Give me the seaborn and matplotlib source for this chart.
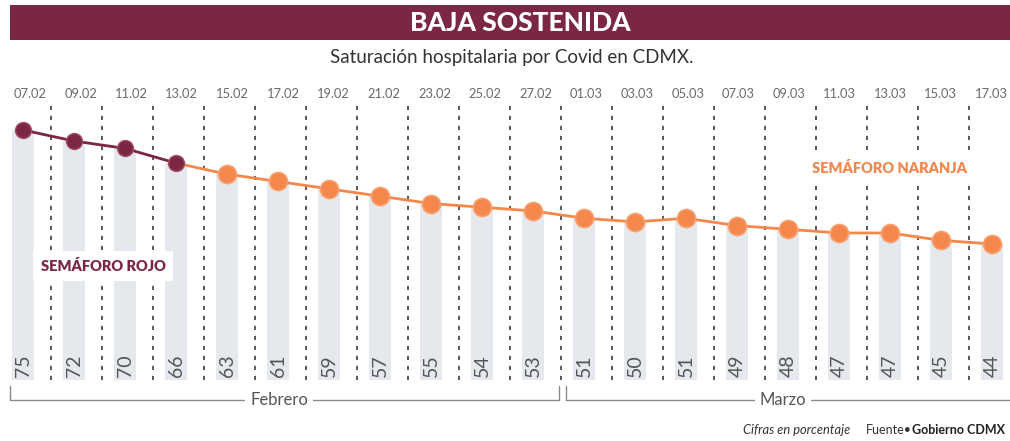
import numpy as np
import pandas as pd
import matplotlib
matplotlib.use("Agg")
import matplotlib.pyplot as plt
from matplotlib.patches import Rectangle
from matplotlib.lines import Line2D
import seaborn as sns

# ---- data ----
dates = ["07.02", "09.02", "11.02", "13.02", "15.02", "17.02", "19.02", "21.02",
         "23.02", "25.02", "27.02", "01.03", "03.03", "05.03", "07.03", "09.03",
         "11.03", "13.03", "15.03", "17.03"]
values = [75, 72, 70, 66, 63, 61, 59, 57, 55, 54, 53, 51, 50, 51, 49, 48, 47, 47, 45, 44]
red_count = 4  # first points under "semáforo rojo"
title = "BAJA SOSTENIDA"
subtitle = "Saturación hospitalaria por Covid en CDMX."
months = ["Febrero", "Marzo"]

MAROON = "#7b2743"
ORANGE = "#f4874b"
BARC = "#e5e9ee"
GRID = "#3c3c3c"
TXT = "#555555"

sns.set_theme(style="white")
plt.rcParams["font.family"] = ["Lato", "DejaVu Sans"]

W, H = 1010, 441
fig = plt.figure(figsize=(W / 100, H / 100), dpi=100)
fig.patch.set_facecolor("white")

def fx(px):
    return px / W

def fy(py):
    return 1 - py / H

# axes: bars at px 23 + 51*i, values: 75 -> y 130, 44 -> y 244
x0, dx = 23.0, 51.0
ax_top, ax_bot = 105.0, 380.0
ax = fig.add_axes([0, fy(ax_bot), 1, (ax_bot - ax_top) / H])
k = (244 - 130) / (75 - 44)
ymin = 75 - (ax_bot - 130) / k
ymax = 75 + (130 - ax_top) / k

idx = np.arange(len(values))
df = pd.DataFrame({"i": idx, "v": values, "d": dates})

sns.barplot(data=df, x="i", y="v", native_scale=True, color=BARC, width=0.43,
            saturation=1, ax=ax, zorder=1)
for p in ax.patches:
    p.set_edgecolor("none")

# dashed separators
for i in range(len(values) - 1):
    ax.axvline(i + 0.54, color=GRID, lw=1.2, ls=(0, (2.5, 3.5)), zorder=2)

# lines
sns.lineplot(x=idx[red_count - 1:], y=values[red_count - 1:], color=ORANGE, lw=2,
             ax=ax, zorder=3)
ax.plot(idx[red_count:], values[red_count:], ls="none", marker="o", ms=13,
        mfc=ORANGE, mec="#f8a070", mew=1.2, zorder=4)
sns.lineplot(x=idx[:red_count], y=values[:red_count], color=MAROON, lw=2,
             ax=ax, zorder=5)
ax.plot(idx[:red_count], values[:red_count], ls="none", marker="o", ms=11.5,
        mfc=MAROON, mec="#a0506a", mew=1.0, zorder=6)

ax.set_xlim(-x0 / dx, (W - x0) / dx)
ax.set_ylim(ymin, ymax)
ax.set_xlabel("")
ax.set_ylabel("")
ax.set_xticks([])
ax.set_yticks([])
for s in ax.spines.values():
    s.set_visible(False)
ax.set_facecolor("none")

# value labels inside bars, rotated
for i, v in enumerate(values):
    ax.text(i, ymin + 0.9, str(v), rotation=90, ha="center", va="bottom",
            fontsize=14, color=TXT, zorder=7)

# date labels on top (slightly tighter spacing than bars)
for i, d in enumerate(dates):
    xp = 30 + 50.6 * i
    ax.text((xp - x0) / dx, ymax + 1.4, d, ha="center", va="bottom", fontsize=9.3,
            color="#6a6a6a", zorder=7, clip_on=False)

# annotations with white boxes
ax.text((103 - x0) / dx, 75 - (266 - 130) / k, "SEMÁFORO ROJO", ha="center",
        va="center", fontsize=10.5, fontweight="heavy", color=MAROON, zorder=8,
        bbox=dict(boxstyle="square,pad=0.55", fc="white", ec="none"))
ax.text((889 - x0) / dx, 75 - (168 - 130) / k, "SEMÁFORO NARANJA", ha="center",
        va="center", fontsize=10.5, fontweight="heavy", color=ORANGE, zorder=8,
        bbox=dict(boxstyle="square,pad=0.55", fc="white", ec="none"))

# title banner
fig.patches.append(Rectangle((fx(10), fy(40)), 1 - fx(10), (40 - 5) / H,
                             transform=fig.transFigure, fc=MAROON, ec="none"))
fig.text(fx(520), fy(23), title, ha="center", va="center", fontsize=19,
         fontweight="black", color="white")
fig.text(fx(512), fy(58), subtitle, ha="center", va="center", fontsize=13.5,
         color="#333333")

# month brackets
def bracket(x1, x2, label, xl, ticks):
    yb = fy(400)
    yt = fy(386)
    fig.lines.append(Line2D([fx(x1), fx(x2)], [yb, yb], transform=fig.transFigure,
                            color="#8a8a8a", lw=1.0))
    for t in ticks:
        fig.lines.append(Line2D([fx(t), fx(t)], [yb, yt], transform=fig.transFigure,
                                color="#8a8a8a", lw=1.0))
    fig.text(fx(xl), yb, label, ha="center", va="center", fontsize=12,
             color=TXT, bbox=dict(boxstyle="square,pad=0.3", fc="white", ec="none"))

bracket(10, 559, months[0], 279, [10, 559])
bracket(566, 1010, months[1], 783, [566])

# footnote
fig.text(fx(797), fy(430), "Cifras en porcentaje", ha="center", va="center",
         fontsize=9.3, style="italic", color="#333333")
t1 = fig.text(fx(866), fy(430), "Fuente\u2022", ha="left", va="center",
              fontsize=9, color="#333333")
fig.canvas.draw()
bb = t1.get_window_extent()
fig.text(bb.x1 / W, fy(430), "Gobierno CDMX", ha="left", va="center",
         fontsize=9, fontweight="bold", color="#222222")

fig.savefig("out.png", dpi=100)
